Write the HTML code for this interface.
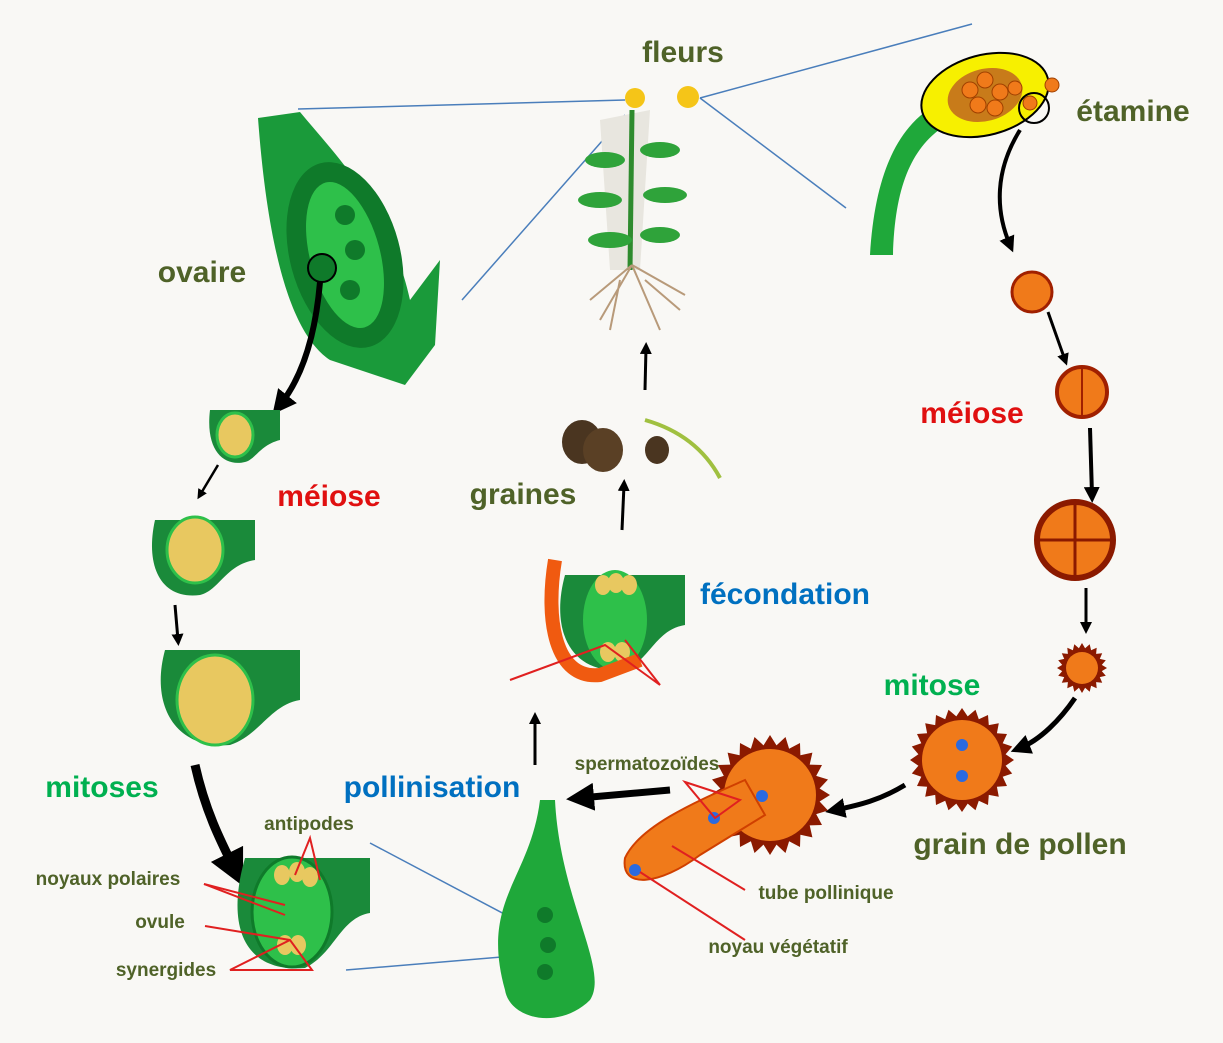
<!DOCTYPE html>
<html><head><meta charset="utf-8"><style>
body{margin:0;background:#f9f8f5;}
svg{display:block;font-family:"Liberation Sans",sans-serif;font-weight:bold;}
.big{font-size:30px;fill:#4f6228}
.sm{font-size:19px;fill:#4f6228}
</style></head><body>
<svg id="s" width="1223" height="1043" viewBox="0 0 1223 1043">
<defs><marker id="ah" viewBox="0 0 10 10" refX="5" refY="5" markerWidth="4" markerHeight="4" orient="auto"><path d="M0,0L10,5L0,10z" fill="#000"/></marker></defs>
<rect width="1223" height="1043" fill="#f9f8f5"/>
<g stroke="#4a7ebb" stroke-width="1.5" fill="none">
<line x1="298" y1="109" x2="625" y2="100"/><line x1="462" y1="300" x2="625" y2="115"/>
<line x1="700" y1="98" x2="972" y2="24"/><line x1="700" y1="98" x2="846" y2="208"/>
<line x1="370" y1="843" x2="525" y2="925"/><line x1="346" y1="970" x2="525" y2="955"/>
</g>
<g>
<path d="M600,120 L650,110 L640,270 L610,270z" fill="#e8e6df"/>
<path d="M630,270 L632,110" stroke="#2e8b2e" stroke-width="5"/>
<g fill="#2fa33a"><ellipse cx="605" cy="160" rx="20" ry="8"/><ellipse cx="660" cy="150" rx="20" ry="8"/><ellipse cx="600" cy="200" rx="22" ry="8"/><ellipse cx="665" cy="195" rx="22" ry="8"/><ellipse cx="610" cy="240" rx="22" ry="8"/><ellipse cx="660" cy="235" rx="20" ry="8"/></g>
<path d="M632,265 L600,320 M632,265 L660,330 M632,265 L590,300 M632,265 L685,295 M620,280 L610,330 M645,280 L680,310" stroke="#b89a7a" stroke-width="2" fill="none"/>
<circle cx="635" cy="98" r="10" fill="#f5c518"/><circle cx="688" cy="97" r="11" fill="#f5c518"/>
</g>
<g>
<path d="M870,255 C875,170 900,120 945,100 L955,120 C915,140 895,180 893,255z" fill="#1fa83a"/>
<ellipse cx="985" cy="95" rx="65" ry="40" fill="#f7f000" stroke="#000" stroke-width="2" transform="rotate(-15 985 95)"/>
<ellipse cx="985" cy="95" rx="38" ry="26" fill="#c87b1a" transform="rotate(-15 985 95)"/>
<g fill="#f07a1a" stroke="#a04000"><circle cx="970" cy="90" r="8"/><circle cx="985" cy="80" r="8"/><circle cx="1000" cy="92" r="8"/><circle cx="978" cy="105" r="8"/><circle cx="995" cy="108" r="8"/><circle cx="1015" cy="88" r="7"/><circle cx="1052" cy="85" r="7"/><circle cx="1030" cy="103" r="7"/></g>
<circle cx="1034" cy="108" r="15" fill="none" stroke="#000" stroke-width="2"/>
</g>
<g>
<path d="M258,118 L300,112 C340,160 390,210 410,300 L440,260 L435,345 L405,385 L330,360 C300,340 270,280 258,118z" fill="#1a9a3a"/>
<ellipse cx="345" cy="255" rx="55" ry="95" fill="#0f7a2a" transform="rotate(-15 345 255)"/>
<ellipse cx="345" cy="255" rx="35" ry="75" fill="#2ec04a" transform="rotate(-15 345 255)"/>
<g fill="#0f7a2a"><circle cx="345" cy="215" r="10"/><circle cx="355" cy="250" r="10"/><circle cx="350" cy="290" r="10"/></g>
<circle cx="322" cy="268" r="14" fill="#0f7a2a" stroke="#000" stroke-width="2"/>
</g>
<g stroke="#000" fill="none" marker-end="url(#ah)">
<path d="M320,282 C315,340 300,380 280,405" stroke-width="6"/>
<path d="M218,465 L200,495" stroke-width="2.5"/>
<path d="M175,605 L178,640" stroke-width="3"/>
<path d="M195,765 C205,810 220,840 235,870" stroke-width="9"/>
<path d="M670,790 L580,798" stroke-width="7"/>
<path d="M535,765 L535,718" stroke-width="3"/>
<path d="M622,530 L624,485" stroke-width="3"/>
<path d="M645,390 L646,348" stroke-width="3"/>
<path d="M1020,130 C995,170 995,210 1010,245" stroke-width="4"/>
<path d="M1048,312 L1065,360" stroke-width="3"/>
<path d="M1090,428 L1092,495" stroke-width="4"/>
<path d="M1086,588 L1086,628" stroke-width="3"/>
<path d="M1075,698 C1060,720 1040,740 1020,748" stroke-width="5"/>
<path d="M905,785 C880,800 860,805 835,810" stroke-width="5"/>
</g>
<g id="pollen">
<circle cx="1032" cy="292" r="20" fill="#f07a1a" stroke="#a02000" stroke-width="3"/>
<circle cx="1082" cy="392" r="25" fill="#f07a1a" stroke="#a02000" stroke-width="4"/>
<line x1="1082" y1="367" x2="1082" y2="417" stroke="#a02000" stroke-width="2"/>
<circle cx="1075" cy="540" r="38" fill="#f07a1a" stroke="#8b1a00" stroke-width="6"/>
<path d="M1075,502 V578 M1037,540 H1113" stroke="#8b1a00" stroke-width="3"/>
</g>
<g fill="#1a8a3a">
<path d="M210,410 h70 v30 c-20,5 -25,20 -35,22 c-20,5 -40,-10 -35,-52z"/><ellipse cx="235" cy="435" rx="18" ry="22" fill="#e8c860" stroke="#2ec04a" stroke-width="3"/>
<path d="M155,520 h100 v40 c-30,5 -35,30 -55,35 c-40,5 -55,-30 -45,-75z"/><ellipse cx="195" cy="550" rx="28" ry="33" fill="#e8c860" stroke="#2ec04a" stroke-width="3"/>
<path d="M165,650 h135 v50 c-30,5 -40,35 -70,45 c-55,5 -80,-40 -65,-95z"/><ellipse cx="215" cy="700" rx="38" ry="45" fill="#e8c860" stroke="#2ec04a" stroke-width="3"/>
<path d="M245,858 h125 v55 c-30,5 -35,40 -65,55 c-60,5 -80,-40 -60,-110z"/><ellipse cx="292" cy="912" rx="40" ry="55" fill="#2ec04a" stroke="#0f7a2a" stroke-width="3"/>
<g fill="#e8c860"><ellipse cx="282" cy="875" rx="8" ry="10"/><ellipse cx="297" cy="872" rx="8" ry="10"/><ellipse cx="310" cy="877" rx="8" ry="10"/><ellipse cx="285" cy="945" rx="8" ry="10"/><ellipse cx="298" cy="945" rx="8" ry="10"/></g>
<path d="M565,575 h120 v50 c-30,5 -35,35 -60,45 c-55,5 -75,-40 -60,-95z"/><ellipse cx="615" cy="620" rx="32" ry="50" fill="#2ec04a"/>
<g fill="#e8c860"><ellipse cx="603" cy="585" rx="8" ry="10"/><ellipse cx="616" cy="583" rx="8" ry="10"/><ellipse cx="629" cy="585" rx="8" ry="10"/><ellipse cx="608" cy="652" rx="8" ry="10"/><ellipse cx="622" cy="652" rx="8" ry="10"/></g>
<path d="M540,800 C530,880 480,900 505,990 C510,1020 560,1030 590,1000 C610,970 560,900 555,800z" fill="#1fa83a"/>
<g fill="#0f7a2a"><circle cx="545" cy="915" r="8"/><circle cx="548" cy="945" r="8"/><circle cx="545" cy="972" r="8"/></g>
</g>
<path d="M555,560 C545,620 555,680 600,675 L640,660" stroke="#f05a10" stroke-width="14" fill="none"/>
<g>
<ellipse cx="582" cy="442" rx="20" ry="22" fill="#4a3520"/><ellipse cx="603" cy="450" rx="20" ry="22" fill="#5a4025"/>
<ellipse cx="657" cy="450" rx="12" ry="14" fill="#4a3520"/><path d="M645,420 C680,430 705,450 720,478" stroke="#a0c040" stroke-width="4" fill="none"/>
</g>
<g stroke="#e02020" stroke-width="2" fill="none">
<line x1="204" y1="884" x2="285" y2="915"/><line x1="204" y1="884" x2="285" y2="905"/>
<line x1="205" y1="926" x2="290" y2="940"/><path d="M230,970 L312,970 L290,940z"/>
<path d="M295,875 L310,838 L320,880"/>
<path d="M685,782 L740,800 L715,818z"/>
<line x1="672" y1="846" x2="745" y2="890"/><line x1="640" y1="872" x2="745" y2="940"/>
<path d="M510,680 L605,645 L660,685 L625,640"/>
</g>
<text x="683" y="62" text-anchor="middle" class="big">fleurs</text>
<text x="1133" y="121" text-anchor="middle" class="big">étamine</text>
<text x="202" y="282" text-anchor="middle" class="big">ovaire</text>
<text x="972" y="423" text-anchor="middle" class="big" style="fill:#e01010">méiose</text>
<text x="329" y="506" text-anchor="middle" class="big" style="fill:#e01010">méiose</text>
<text x="523" y="504" text-anchor="middle" class="big">graines</text>
<text x="785" y="604" text-anchor="middle" class="big" style="fill:#0070c0">fécondation</text>
<text x="932" y="695" text-anchor="middle" class="big" style="fill:#00b050">mitose</text>
<text x="102" y="797" text-anchor="middle" class="big" style="fill:#00b050">mitoses</text>
<text x="432" y="797" text-anchor="middle" class="big" style="fill:#0070c0">pollinisation</text>
<text x="1020" y="854" text-anchor="middle" class="big">grain de pollen</text>
<text x="647" y="770" text-anchor="middle" class="sm">spermatozoïdes</text>
<text x="309" y="830" text-anchor="middle" class="sm">antipodes</text>
<text x="108" y="885" text-anchor="middle" class="sm">noyaux polaires</text>
<text x="160" y="928" text-anchor="middle" class="sm">ovule</text>
<text x="166" y="976" text-anchor="middle" class="sm">synergides</text>
<text x="826" y="899" text-anchor="middle" class="sm">tube pollinique</text>
<text x="778" y="953" text-anchor="middle" class="sm">noyau végétatif</text>
</svg>
<script>
var NS="http://www.w3.org/2000/svg";
var g=document.getElementById('pollen');
function spiky(cx,cy,r,spike,n,name){
  var pts=[];
  for(var i=0;i<n*2;i++){var a=Math.PI*i/n;var rr=i%2?r:r+spike;pts.push((cx+rr*Math.cos(a)).toFixed(1)+","+(cy+rr*Math.sin(a)).toFixed(1));}
  var p=document.createElementNS(NS,'polygon');
  p.setAttribute('points',pts.join(' '));
  p.setAttribute('fill','#8b1a00');
  
  
  g.appendChild(p);
  var c=document.createElementNS(NS,'circle');
  c.setAttribute('cx',cx);c.setAttribute('cy',cy);c.setAttribute('r',r-4);c.setAttribute('fill','#f07a1a');
  
  
  g.appendChild(c);
}
spiky(1082,668,20,5,20,'microspore');
spiky(962,760,44,8,24,'pollen-grain');
spiky(770,795,50,10,24,'germinating-pollen');
var tube=document.createElementNS(NS,'path');
tube.setAttribute('d','M745,780 C700,800 640,825 625,858 C620,890 660,885 700,855 L765,815z');
tube.setAttribute('fill','#f07a1a');tube.setAttribute('stroke','#d04000');tube.setAttribute('stroke-width','2');


g.appendChild(tube);
[[962,745],[962,776],[762,796],[714,818],[635,870]].forEach(function(d){
  var c=document.createElementNS(NS,'circle');
  c.setAttribute('cx',d[0]);c.setAttribute('cy',d[1]);c.setAttribute('r',6);c.setAttribute('fill','#2a6ae0');
  
  
  g.appendChild(c);
});
</script>
</body></html>
